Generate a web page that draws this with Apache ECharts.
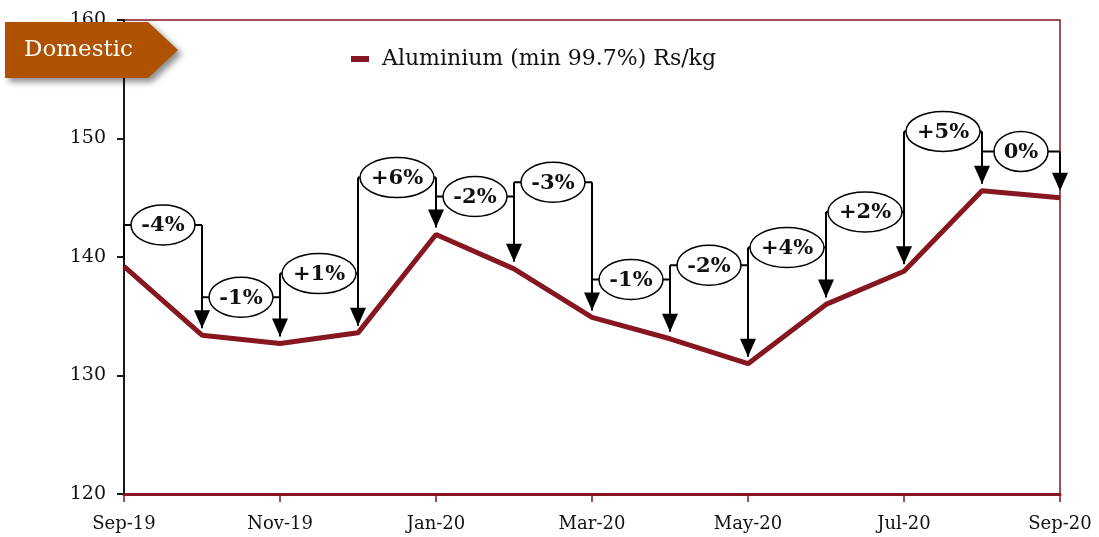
<!DOCTYPE html>
<html>
<head>
<meta charset="utf-8">
<script src="https://cdn.jsdelivr.net/npm/echarts@6/dist/echarts.min.js"></script>
<style>
  html, body { margin: 0; padding: 0; background: #fff; }
  #chart { width: 1099px; height: 537px; }
</style>
</head>
<body>
<div id="chart"></div>
<script>
var months = ['Sep-19', 'Oct-19', 'Nov-19', 'Dec-19', 'Jan-20', 'Feb-20', 'Mar-20',
  'Apr-20', 'May-20', 'Jun-20', 'Jul-20', 'Aug-20', 'Sep-20']
var prices = [139.2, 133.4, 132.7, 133.6, 141.9, 139.0, 134.9, 133.1, 131.0, 136.0, 138.8, 145.6, 145.0]
// month on month change shown in the bubbles
var changes = ['-4%', '-1%', '+1%', '+6%', '-2%', '-3%', '-1%', '-2%', '+4%', '+2%', '+5%', '0%']
// height (Rs/kg) where each bubble bracket sits
var bracketLevel = [142.7, 136.6, 138.6, 146.7, 145.1, 146.3, 138.1, 139.3, 140.8, 143.8, 150.6, 148.9]
var yTicks = { min: 120, max: 160, step: 10 }

var red = '#86161f'
var serif = 'DejaVu Serif'

var chart = echarts.init(document.getElementById('chart'))

var bracketData = []
for (var i = 0; i < changes.length; i++) {
  bracketData.push([i, bracketLevel[i]])
}

function bubbleWidth(txt) {
  if (txt === '0%') return 27
  if (txt.charAt(0) === '+') return 37
  return 32
}

function renderBracket(params, api) {
  var i = api.value(0)
  var top = api.coord([i, api.value(1)])[1]
  var a = api.coord([i, prices[i]])
  var b = api.coord([i + 1, prices[i + 1]])
  var tipA = a[1] - 7
  var tipB = b[1] - 7
  var cx = (a[0] + b[0]) / 2
  var txt = changes[i]
  var rx = bubbleWidth(txt)
  var lineStyle = { stroke: '#000', lineWidth: 2, fill: null }
  return {
    type: 'group',
    children: [
      { type: 'line', shape: { x1: a[0], y1: top, x2: a[0], y2: tipA }, style: lineStyle },
      { type: 'line', shape: { x1: a[0], y1: top, x2: b[0], y2: top }, style: lineStyle },
      { type: 'line', shape: { x1: b[0], y1: top, x2: b[0], y2: tipB - 16 }, style: lineStyle },
      {
        type: 'polygon',
        shape: { points: [[b[0] - 8, tipB - 18], [b[0] + 8, tipB - 18], [b[0], tipB]] },
        style: { fill: '#000' }
      },
      {
        type: 'ellipse',
        shape: { cx: cx, cy: top, rx: rx, ry: 20 },
        style: { fill: '#fff', stroke: '#000', lineWidth: 1.5 }
      },
      {
        type: 'text',
        style: {
          text: txt, x: cx, y: top + 1, align: 'center', verticalAlign: 'middle',
          font: 'bold 21px "' + serif + '"', fill: '#111'
        }
      }
    ]
  }
}

var option = {
  animation: false,
  grid: {
    left: 124, right: 39, top: 20, bottom: 43,
    show: true, borderColor: red, borderWidth: 1.5
  },
  legend: {
    left: 346, top: 43,
    icon: 'rect', itemWidth: 18, itemHeight: 6, itemGap: 10,
    textStyle: { fontFamily: serif, fontSize: 22, color: '#111', padding: [0, 0, 0, 8] },
    data: ['Aluminium (min 99.7%) Rs/kg']
  },
  xAxis: {
    type: 'category',
    data: months,
    boundaryGap: false,
    axisLine: { lineStyle: { color: red, width: 3 } },
    axisTick: { show: true, interval: 1, length: 8, lineStyle: { color: red, width: 1.5 } },
    axisLabel: { interval: 1, margin: 21, fontFamily: serif, fontSize: 18, color: '#111' },
    splitLine: { show: false }
  },
  yAxis: {
    type: 'value',
    min: yTicks.min, max: yTicks.max, interval: yTicks.step,
    axisLine: { show: true, lineStyle: { color: '#1a1a1a', width: 2 } },
    axisTick: { show: true, length: 7, lineStyle: { color: '#1a1a1a', width: 2 } },
    axisLabel: { margin: 18, fontFamily: serif, fontSize: 19, color: '#111' },
    splitLine: { show: false }
  },
  graphic: [
    {
      type: 'polygon',
      z: 100,
      shape: { points: [[5, 22], [148, 22], [178, 50], [148, 78], [5, 78]] },
      style: {
        fill: '#ae5100',
        shadowBlur: 6, shadowOffsetX: 4, shadowOffsetY: 4, shadowColor: 'rgba(0,0,0,0.45)'
      }
    },
    {
      type: 'text',
      z: 101,
      left: 24, top: 39,
      style: { text: 'Domestic', font: '23px "' + serif + '"', fill: '#fff' }
    }
  ],
  series: [
    {
      name: 'Aluminium (min 99.7%) Rs/kg',
      type: 'line',
      data: prices,
      showSymbol: false,
      itemStyle: { color: red },
      lineStyle: { color: red, width: 5 },
      z: 3
    },
    {
      type: 'custom',
      coordinateSystem: 'cartesian2d',
      data: bracketData,
      encode: { x: 0, y: 1 },
      renderItem: renderBracket,
      clip: false,
      z: 5,
      silent: true
    }
  ]
}

chart.setOption(option)
</script>
</body>
</html>
